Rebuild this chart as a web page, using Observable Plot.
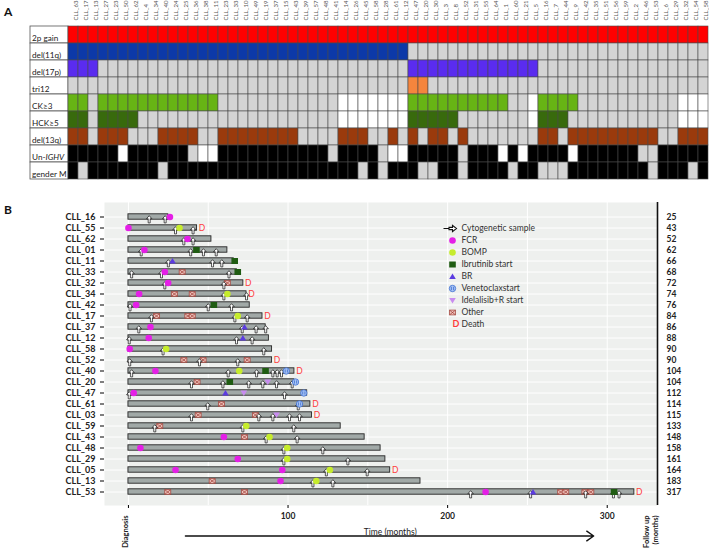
<!DOCTYPE html>
<html><head><meta charset="utf-8">
<script src="https://cdn.jsdelivr.net/npm/d3@7"></script>
<script src="https://cdn.jsdelivr.net/npm/@observablehq/plot@0.6"></script>
<style>
body{margin:0;background:#fff;font-family:Lato,"Open Sans",sans-serif;}
#wrap{position:relative;width:709px;height:550px;overflow:hidden;background:#fff;}
#wrap > *{position:absolute;}
.lbl{font-weight:bold;font-size:12px;color:#111;}
</style></head><body><div id="wrap"></div>
<script>
// ---------- Panel A data ----------
const columns = ["CLL_63","CLL_17","CLL_13","CLL_27","CLL_23","CLL_50","CLL_62","CLL_4","CLL_34","CLL_40","CLL_24","CLL_25","CLL_36","CLL_38","CLL_11","CLL_23","CLL_33","CLL_10","CLL_49","CLL_19","CLL_37","CLL_15","CLL_43","CLL_39","CLL_57","CLL_48","CLL_41","CLL_14","CLL_26","CLL_45","CLL_58","CLL_28","CLL_61","CLL_12","CLL_47","CLL_20","CLL_30","CLL_3","CLL_8","CLL_52","CLL_31","CLL_55","CLL_64","CLL_1","CLL_60","CLL_21","CLL_5","CLL_16","CLL_7","CLL_44","CLL_9","CLL_42","CLL_35","CLL_51","CLL_56","CLL_59","CLL_2","CLL_46","CLL_53","CLL_6","CLL_29","CLL_32","CLL_54","CLL_58"];
const features = ["2p gain","del(11q)","del(17p)","tri12","CK≥3","HCK≥5","del(13q)","Un-IGHV","gender M"];
// 1 = present, 0 = absent (grey), n = not available (white)
const featureCodes = [
 "1111111111 1111111111 1111111111 1111111111 1111111111 1111111111 1111",
 "1111111111 1111111111 1111111111 1111000000 0000000000 0000000000 0000",
 "1110000000 0000000000 0000000000 0000111111 1111111000 0000000000 0000",
 "0000000000 0000000000 0000000000 0000110000 0000000000 0000000000 0000",
 "1101111111 1111100000 0000000nnn nnnn111111 111100n111 1000000000 0nnn",
 "1101111000 0000000000 0000000nnn nnnn111110 000000n111 0000000000 0nnn",
 "1101110001 1110011111 1110000111 0010101101 0000000110 1111111110 0111",
 "11111n1111 110nn11111 1111110111 10nn111110 111n1n1111 n111111001 1111",
 "1011111110 1111111111 1111111110 1011100110 1111011000 1111111101 1101"
];
const featureColors = ["#ff0000","#0c39a8","#5a2cef","#f5853d","#67b414","#386a0c","#9a3a0c","#000000","#000000"];

// ---------- Panel B data ----------
const patients = ["CLL_16","CLL_55","CLL_62","CLL_01","CLL_11","CLL_33","CLL_32","CLL_34","CLL_42","CLL_17","CLL_37","CLL_12","CLL_58","CLL_52","CLL_40","CLL_20","CLL_47","CLL_61","CLL_03","CLL_59","CLL_43","CLL_48","CLL_29","CLL_05","CLL_13","CLL_53"];
const followUp = [25,43,52,62,66,68,72,74,76,84,86,88,90,90,104,104,112,114,115,133,148,158,161,164,183,317];
const samples = [["CLL_16",13],["CLL_16",23],["CLL_55",29.5],["CLL_55",40.5],["CLL_62",34.7],["CLL_62",40.5],
 ["CLL_01",8],["CLL_01",39],["CLL_01",47],["CLL_01",55],["CLL_11",25],["CLL_11",52.7],["CLL_11",58.5],
 ["CLL_33",2],["CLL_33",20.7],["CLL_33",63],["CLL_32",22.8],["CLL_32",59.8],["CLL_34",59.8],["CLL_34",74],
 ["CLL_42",1],["CLL_42",50],["CLL_42",64.6],["CLL_17",14.4],["CLL_17",66.7],["CLL_17",74.4],
 ["CLL_37",6.5],["CLL_37",71.3],["CLL_37",80],["CLL_37",86],["CLL_12",0.5],["CLL_12",67.7],["CLL_12",77.5],
 ["CLL_58",21.7],["CLL_58",84.8],["CLL_52",0.8],["CLL_52",44.5],["CLL_52",68.5],
 ["CLL_40",2],["CLL_40",62.5],["CLL_40",80.3],["CLL_40",90.5],["CLL_40",93.2],["CLL_40",95.9],
 ["CLL_20",39.5],["CLL_20",59.2],["CLL_20",75.4],["CLL_20",84.2],["CLL_20",92.8],["CLL_20",102.6],
 ["CLL_47",0.5],["CLL_47",97.8],["CLL_61",49.7],["CLL_61",106.4],
 ["CLL_03",39.5],["CLL_03",81.7],["CLL_03",90.5],["CLL_03",100.9],["CLL_03",107.2],
 ["CLL_59",16.5],["CLL_59",71.7],["CLL_59",103.6],["CLL_43",86.3],["CLL_43",105.7],
 ["CLL_48",97.4],["CLL_48",121.8],["CLL_29",97.4],["CLL_29",137.5],["CLL_05",124],["CLL_05",149.6],
 ["CLL_13",115.6],["CLL_13",128.1],["CLL_53",214.4],["CLL_53",252],["CLL_53",286.5],["CLL_53",303.9],["CLL_53",307.4]];
const fcr = [["CLL_16",26],["CLL_55",0],["CLL_62",37],["CLL_01",10],["CLL_33",22.8],["CLL_32",24.9],["CLL_34",6.7],
 ["CLL_42",4.8],["CLL_37",13.8],["CLL_12",12.7],["CLL_58",0.8],["CLL_40",16.9],["CLL_47",3.3],["CLL_43",59.8],
 ["CLL_48",7.5],["CLL_29",68.5],["CLL_05",29.5],["CLL_05",96.4],["CLL_13",95.3],["CLL_53",223.8]];
const bomp = [["CLL_55",32],["CLL_34",62],["CLL_17",68.5],["CLL_58",23.6],["CLL_40",69.4],["CLL_59",73.8],
 ["CLL_43",88.4],["CLL_48",99.5],["CLL_29",99.5],["CLL_05",126.2],["CLL_13",117.7]];
const ibrutinib = [["CLL_01",42.6],["CLL_11",66.6],["CLL_33",68.5],["CLL_42",53.5],["CLL_40",85.9],["CLL_20",63.5],["CLL_53",304.3]];
const br = [["CLL_11",27.6],["CLL_37",72.7],["CLL_12",71.7],["CLL_47",60.8],["CLL_53",253.5]];
const venetoclax = [["CLL_40",98.9],["CLL_20",104.7],["CLL_47",109.9],["CLL_61",107.2]];
const idelalisib = [["CLL_20",87.3],["CLL_47",72.3],["CLL_03",92.8]];
const other = [["CLL_33",33.7],["CLL_32",62],["CLL_34",28.8],["CLL_34",40],["CLL_17",17.6],["CLL_17",37.2],["CLL_17",40],
 ["CLL_52",34.7],["CLL_52",46.8],["CLL_52",74.4],["CLL_20",43],["CLL_61",58.3],["CLL_03",43.7],["CLL_03",79.6],
 ["CLL_59",19.6],["CLL_43",72.7],["CLL_13",52.5],["CLL_53",24.6],["CLL_53",72.7],["CLL_53",270.8],["CLL_53",274],["CLL_53",286],["CLL_53",289.7]];
const deaths = ["CLL_55","CLL_32","CLL_34","CLL_17","CLL_52","CLL_40","CLL_61","CLL_03","CLL_05","CLL_53"];
const xTicks = [0,100,200,300];
const gridTicks = [0,50,100,150,200,250,300];
const legendLabels = ["Cytogenetic sample","FCR","BOMP","Ibrutinib start","BR","Venetoclaxstart","Idelalisib+R start","Other","Death"];

// ---------- colours & symbols ----------
const C = {fcr:"#e41fe6", bomp:"#c6ec2c", ibr:"#1f5c12", br:"#5b3be0", venF:"#a9c4f3", venS:"#3a6cd0", ide:"#c98cf0", othF:"#efc3bd", othS:"#9c3a30", death:"#ff3b3b"};
const arrowUp = {draw(c){c.moveTo(0,-3.6);c.lineTo(2.7,-0.6);c.lineTo(1,-0.6);c.lineTo(1,3.6);c.lineTo(-1,3.6);c.lineTo(-1,-0.6);c.lineTo(-2.7,-0.6);c.closePath();}};
const arrowRight = {draw(c){c.moveTo(-9,0);c.lineTo(-3.5,0);c.moveTo(-3.5,-1.1);c.lineTo(0,-1.1);c.lineTo(0,-3.2);c.lineTo(4,0);c.lineTo(0,3.2);c.lineTo(0,1.1);c.lineTo(-3.5,1.1);c.closePath();}};
const otherSym = {draw(c){c.rect(-3,-2.4,6,4.8);c.moveTo(-3,-2.4);c.lineTo(3,2.4);c.moveTo(3,-2.4);c.lineTo(-3,2.4);}};
const squareSym = {draw(c){c.rect(-3.3,-3,6.6,6);}};
const triDown = {draw(c){c.moveTo(-3.3,-2.4);c.lineTo(3.3,-2.4);c.lineTo(0,3);c.closePath();}};
const triUp = {draw(c){c.moveTo(-3.3,2.4);c.lineTo(3.3,2.4);c.lineTo(0,-3);c.closePath();}};
const venSym = {draw(c){c.moveTo(3.2,0);c.arc(0,0,3.2,0,2*Math.PI);c.moveTo(-1.1,-1.6);c.lineTo(-1.1,1.6);c.moveTo(1.1,-1.6);c.lineTo(1.1,1.6);}};
const circ = {draw(c){c.moveTo(3.3,0);c.arc(0,0,3.3,0,2*Math.PI);}};

const wrap = document.getElementById("wrap");
function place(el, left, top){ el.style.left = left + "px"; el.style.top = top + "px"; wrap.appendChild(el); }
function lab(t, l, tp){ const d = document.createElement("div"); d.className = "lbl"; d.textContent = t; place(d, l, tp); }

// ---------- Panel A ----------
const cells = [];
features.forEach((f, r) => {
  const codes = featureCodes[r].replace(/ /g, "");
  for (let i = 0; i < columns.length; i++) {
    const k = codes[i];
    cells.push({f, i, fill: k === "1" ? featureColors[r] : k === "0" ? "#d4d4d4" : "#ffffff"});
  }
});
const panelA = Plot.plot({
  width: 709, height: 190, marginTop: 22, marginBottom: 8, marginLeft: 30, marginRight: 1,
  style: {fontFamily: "Lato, 'Open Sans', sans-serif", background: "transparent"},
  x: {domain: [-3.8, columns.length], axis: null},
  y: {domain: features, padding: 0, axis: null},
  color: {type: "identity"},
  marks: [
    Plot.barX(features, {x1: -3.8, x2: 0, y: d => d, fill: "white", stroke: "#555", strokeWidth: 0.8}),
    Plot.barX(cells, {x1: "i", x2: d => d.i + 1, y: "f", fill: "fill", stroke: "#4a4a4a", strokeWidth: 0.6}),
    Plot.text(features, {x: -3.8, y: d => d, text: d => d, textAnchor: "start", dx: 1.5, dy: 3.5, fontSize: 8.2, fill: "#222"}),
    Plot.text(columns, {x: (d, i) => i + 0.5, frameAnchor: "top", text: d => d, rotate: -90, textAnchor: "start", dy: -2, fontSize: 6, fill: "#555"})
  ]
});
panelA.querySelectorAll("text").forEach(t => {
  if (t.textContent === "Un-IGHV") {
    t.textContent = "";
    const a = document.createElementNS("http://www.w3.org/2000/svg", "tspan"); a.textContent = "Un-";
    const b = document.createElementNS("http://www.w3.org/2000/svg", "tspan"); b.textContent = "IGHV"; b.setAttribute("font-style", "italic");
    t.appendChild(a); t.appendChild(b);
  }
});
place(panelA, 0, 0);

// ---------- Panel B ----------
const bars = patients.map((p, i) => ({p, f: followUp[i]}));
const fu = p => followUp[patients.indexOf(p)];
const ev = (data, opts) => Plot.dot(data, {x: d => d[1], y: d => d[0], ...opts});
const panelB = Plot.plot({
  width: 709, height: 360, marginTop: 12, marginBottom: 45, marginLeft: 104, marginRight: 52,
  style: {fontFamily: "Lato, 'Open Sans', sans-serif", background: "transparent", overflow: "visible"},
  x: {domain: [-15, 331.5]},
  y: {domain: patients, padding: 0},
  marks: [
    Plot.frame({fill: "#eef0ee"}),
    Plot.gridX(gridTicks, {stroke: "white", strokeOpacity: 1, strokeWidth: 1}),
    Plot.ruleY(patients, {y: d => d, stroke: "white", strokeWidth: 1}),
    Plot.barX(bars, {x1: 0, x2: "f", y: "p", fill: "#a1a9a7", stroke: "#262626", strokeWidth: 0.9, insetTop: 2.8, insetBottom: 2.8}),
    ev(other, {symbol: otherSym, fill: C.othF, stroke: C.othS, strokeWidth: 0.7}),
    ev(samples, {symbol: arrowUp, fill: "white", stroke: "#111", strokeWidth: 0.7, dy: 2.3}),
    ev(fcr, {symbol: circ, fill: C.fcr}),
    ev(bomp, {symbol: circ, fill: C.bomp}),
    ev(ibrutinib, {symbol: squareSym, fill: C.ibr}),
    ev(br, {symbol: triUp, fill: C.br}),
    ev(venetoclax, {symbol: venSym, fill: C.venF, stroke: C.venS, strokeWidth: 0.8}),
    ev(idelalisib, {symbol: triDown, fill: C.ide}),
    Plot.text(deaths, {x: fu, y: d => d, text: () => "D", dx: 5, fill: C.death, fontSize: 8.5}),
    Plot.ruleX([331.5], {stroke: "#111", strokeWidth: 1.6}),
    Plot.axisY({anchor: "left", tickSize: 4, tickPadding: 5, fontSize: 9, fontWeight: "bold", fill: "#222", label: null}),
    Plot.axisY({anchor: "right", tickSize: 0, tickPadding: 9, tickFormat: fu, fontSize: 8.5, fontWeight: "bold", fill: "#222", label: null}),
    Plot.axisX({ticks: xTicks, tickSize: 3, tickPadding: 4, tickFormat: d => d === 0 ? "" : d, fontSize: 8.5, fontWeight: "bold", fill: "#222", label: null}),
    Plot.text(["Diagnosis"], {x: 0, frameAnchor: "bottom", text: d => d, rotate: -90, textAnchor: "end", dy: 10, fontSize: 7.5, fontWeight: "bold", fill: "#222"}),
    Plot.text(["Follow up\n(months)"], {x: 331.5, frameAnchor: "bottom", text: d => d, rotate: -90, textAnchor: "end", dy: 10, fontSize: 7.5, fontWeight: "bold", fill: "#222", lineHeight: 1.2}),
    Plot.text(["Time (months)"], {x: 164, frameAnchor: "bottom", text: d => d, dy: 29, fontSize: 8.5, fill: "#222"}),
    Plot.arrow([0], {x1: 35.7, x2: 291.5, y1: () => "CLL_53", y2: () => "CLL_53", dy: 44, stroke: "#111", strokeWidth: 1.4, headLength: 9, headAngle: 70})
  ]
});
place(panelB, 0, 190);

// ---------- Legend ----------
const L = legendLabels;
const leg = (label, opts) => Plot.dot([label], {y: d => d, frameAnchor: "left", ...opts});
const legend = Plot.plot({
  width: 170, height: 105, marginTop: 2.1, marginBottom: 2.3, marginLeft: 22, marginRight: 0,
  style: {fontFamily: "Lato, 'Open Sans', sans-serif", background: "transparent", overflow: "visible"},
  x: {axis: null}, y: {domain: L, padding: 0, axis: null},
  marks: [
    leg(L[0], {symbol: arrowRight, fill: "white", stroke: "#111", strokeWidth: 1.1}),
    leg(L[1], {symbol: circ, fill: C.fcr}),
    leg(L[2], {symbol: circ, fill: C.bomp}),
    leg(L[3], {symbol: squareSym, fill: C.ibr}),
    leg(L[4], {symbol: triUp, fill: C.br}),
    leg(L[5], {symbol: venSym, fill: C.venF, stroke: C.venS, strokeWidth: 0.8}),
    leg(L[6], {symbol: triDown, fill: C.ide}),
    leg(L[7], {symbol: otherSym, fill: C.othF, stroke: C.othS, strokeWidth: 0.7}),
    Plot.text([L[8]], {y: d => d, frameAnchor: "left", text: () => "D", fill: C.death, fontSize: 9, fontWeight: "bold"}),
    Plot.text(L, {y: d => d, frameAnchor: "left", text: d => d, dx: 9, textAnchor: "start", fontSize: 8.5, fill: "#333"})
  ]
});
place(legend, 430, 224);

lab("A", 4, 4);
lab("B", 4, 202);
</script></body></html>
